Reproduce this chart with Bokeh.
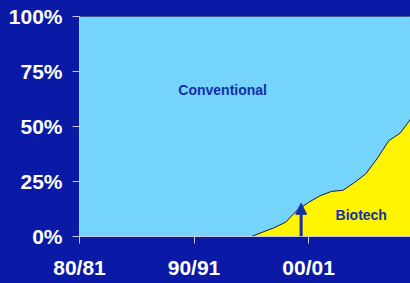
from bokeh.plotting import figure
from bokeh.models import FixedTicker, Arrow, NormalHead, Label, Range1d
from bokeh.embed import file_html
from bokeh.resources import INLINE

# ---- data ----
years = [1980, 1995, 1996, 1997, 1998, 1999, 2000, 2001, 2002, 2003, 2004, 2005, 2006, 2007, 2008, 2009]
biotech = [0, 0, 2, 4, 6.5, 12, 15.5, 18.5, 20.5, 21, 24.5, 28.5, 35.5, 43.5, 47, 54]
conventional_top = [100] * len(years)
x_ticks = [1980, 1990, 2000]
x_tick_labels = ["80/81", "90/91", "00/01"]
y_ticks = [0, 25, 50, 75, 100]
y_tick_labels = ["0%", "25%", "50%", "75%", "100%"]
arrow_year = 1999.35
arrow_value = 15.1
conv_label_pos = (1992.5, 66.4)
bio_label_pos = (2004.6, 10)

NAVY = "#0a1aa6"
LIGHT = "#74d4fc"
YELLOW = "#fff500"
TEXTBLUE = "#1430a8"
FONT = "Liberation Sans"

p = figure(width=410, height=283, output_backend="svg", toolbar_location=None,
           x_range=Range1d(1980, 2008.9), y_range=Range1d(0, 100),
           min_border_left=79, min_border_right=0, min_border_top=16, min_border_bottom=47)
p.border_fill_color = NAVY
p.background_fill_color = LIGHT
p.outline_line_color = "#223060"
p.outline_line_width = 1
p.grid.visible = False

p.varea(x=years, y1=biotech, y2=conventional_top, fill_color=LIGHT)
p.varea(x=years, y1=[0] * len(years), y2=biotech, fill_color=YELLOW)
p.line(x=years[1:], y=biotech[1:], line_color="#1a1a3a", line_width=1)

p.add_layout(Arrow(end=NormalHead(size=11, fill_color=TEXTBLUE, line_color=TEXTBLUE),
                   x_start=arrow_year, y_start=0, x_end=arrow_year, y_end=arrow_value,
                   line_color=TEXTBLUE, line_width=3))

p.add_layout(Label(x=conv_label_pos[0], y=conv_label_pos[1], text="Conventional",
                   text_font=FONT, text_font_style="bold", text_font_size="14px",
                   text_color=TEXTBLUE, text_align="center", text_baseline="middle"))
p.add_layout(Label(x=bio_label_pos[0], y=bio_label_pos[1], text="Biotech",
                   text_font=FONT, text_font_style="bold", text_font_size="14px",
                   text_color=TEXTBLUE, text_align="center", text_baseline="middle"))

for ax in (p.xaxis[0], p.yaxis[0]):
    ax.axis_line_color = "#c8c8dc"
    ax.major_tick_line_color = "#c8c8dc"
    ax.major_tick_in = 0
    ax.major_tick_out = 7
    ax.minor_tick_line_color = None
    ax.major_label_text_color = "white"
    ax.major_label_text_font = FONT
    ax.major_label_text_font_style = "bold"

p.xaxis.ticker = FixedTicker(ticks=x_ticks)
p.xaxis.major_label_overrides = dict(zip(x_ticks, x_tick_labels))
p.xaxis.major_label_text_font_size = "21px"
p.xaxis.major_label_standoff = 12
p.yaxis.ticker = FixedTicker(ticks=y_ticks)
p.yaxis.major_label_overrides = dict(zip(y_ticks, y_tick_labels))
p.yaxis.major_label_text_font_size = "21px"
p.yaxis.major_label_standoff = 10

html = file_html(p, INLINE)
html = html.replace("</head>", "<style>html,body{background:%s;}</style></head>" % NAVY, 1)
open("out.html", "w").write(html)
